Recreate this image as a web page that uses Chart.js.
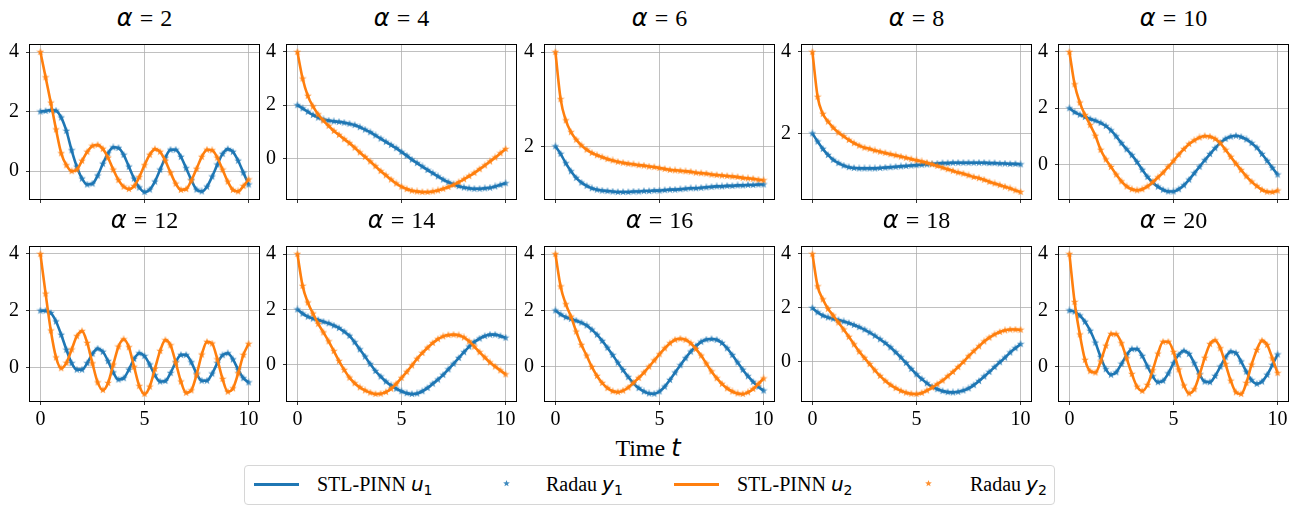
<!DOCTYPE html>
<html lang="en">
<head>
<meta charset="UTF-8" />
<title>STL-PINN vs Radau</title>
<script src="https://cdn.jsdelivr.net/npm/chart.js"></script>
<style>
  body { margin: 0; background: #fff; width: 1296px; height: 506px; position: relative; overflow: hidden;
         font-family: 'Liberation Serif', 'Times New Roman', serif; color: #000; }
  .panel { position: absolute; }
  .ptitle { position: absolute; text-align: center; font-size: 24px; line-height: 27px; white-space: nowrap;
            word-spacing: 1px; font-family: 'Liberation Serif', serif; }
  .m { font-family: 'DejaVu Sans', sans-serif; font-style: italic; }
  sub { font-size: 0.7em; line-height: 0; vertical-align: -0.3em; font-family: 'DejaVu Sans', sans-serif; }
  #xlabel { position: absolute; left: 548px; width: 200px; top: 434px; text-align: center; font-size: 24px; line-height: 28px; }
  #legend { position: absolute; left: 244px; top: 465px; width: 811px; height: 40px; border: 1px solid #d6d6d6;
            border-radius: 4px; box-sizing: border-box; }
  .lline { position: absolute; top: 17px; height: 3px; width: 45px; }
  .ltxt { position: absolute; top: 6.5px; font-size: 20px; line-height: 23px; white-space: nowrap; }
  .lstar { position: absolute; top: 14px; width: 7px; height: 7px; }
  .lstar canvas { display: block; }
</style>
</head>
<body>
<div id="xlabel">Time <span class="m">t</span></div>
<div id="legend">
  <span class="lline" style="left:9px;background:#1f77b4"></span>
  <span class="ltxt" style="left:72px">STL-PINN <span class="m">u</span><sub>1</sub></span>
  <span class="lstar" id="star1" style="left:258px"></span>
  <span class="ltxt" style="left:301px">Radau <span class="m">y</span><sub>1</sub></span>
  <span class="lline" style="left:429px;background:#ff7f0e"></span>
  <span class="ltxt" style="left:492px">STL-PINN <span class="m">u</span><sub>2</sub></span>
  <span class="lstar" id="star2" style="left:680px"></span>
  <span class="ltxt" style="left:725px">Radau <span class="m">y</span><sub>2</sub></span>
</div>

<script>
// time grid of the Radau solution
const times = [0, 0.25, 0.5, 0.75, 1, 1.25, 1.5, 1.75, 2, 2.25, 2.5, 2.75, 3, 3.25, 3.5, 3.75, 4, 4.25, 4.5, 4.75,
  5, 5.25, 5.5, 5.75, 6, 6.25, 6.5, 6.75, 7, 7.25, 7.5, 7.75, 8, 8.25, 8.5, 8.75, 9, 9.25, 9.5, 9.75, 10];
const alphas = [2, 4, 6, 8, 10, 12, 14, 16, 18, 20];
const xTicks = [0, 5, 10];

// u1 / y1 (blue) and u2 / y2 (orange) for every alpha
const u1_a2 = [2.00, 2.02, 2.05, 2.03, 1.80, 1.35, 0.70, 0.15, -0.25, -0.45, -0.42, -0.15, 0.25, 0.60, 0.80, 0.78, 0.55, 0.15, -0.25, -0.55, -0.70, -0.62, -0.35, 0.05, 0.45, 0.72, 0.72, 0.48, 0.10, -0.30, -0.62, -0.68, -0.52, -0.18, 0.22, 0.58, 0.74, 0.65, 0.35, -0.05, -0.45];
const u2_a2 = [4.00, 3.15, 2.30, 1.40, 0.60, 0.20, 0.00, 0.05, 0.35, 0.65, 0.85, 0.88, 0.75, 0.45, 0.05, -0.30, -0.52, -0.60, -0.50, -0.20, 0.20, 0.55, 0.74, 0.65, 0.35, -0.05, -0.42, -0.63, -0.60, -0.32, 0.08, 0.48, 0.72, 0.70, 0.45, 0.05, -0.35, -0.63, -0.68, -0.50, -0.28];

const u1_a4 = [2.00, 1.88, 1.75, 1.63, 1.53, 1.46, 1.42, 1.39, 1.37, 1.34, 1.30, 1.25, 1.17, 1.08, 0.98, 0.86, 0.74, 0.62, 0.50, 0.38, 0.24, 0.10, -0.05, -0.18, -0.31, -0.44, -0.56, -0.68, -0.80, -0.90, -0.98, -1.05, -1.10, -1.13, -1.15, -1.15, -1.13, -1.11, -1.06, -1.00, -0.94];
const u2_a4 = [4.00, 3.00, 2.35, 1.95, 1.65, 1.42, 1.22, 1.03, 0.88, 0.72, 0.57, 0.40, 0.22, 0.05, -0.12, -0.30, -0.48, -0.64, -0.80, -0.95, -1.07, -1.16, -1.22, -1.25, -1.27, -1.27, -1.25, -1.21, -1.15, -1.08, -1.00, -0.90, -0.79, -0.67, -0.55, -0.41, -0.27, -0.12, 0.03, 0.19, 0.35];

const u1_a6 = [2.00, 1.84, 1.64, 1.47, 1.33, 1.23, 1.16, 1.11, 1.08, 1.06, 1.05, 1.04, 1.03, 1.03, 1.03, 1.04, 1.04, 1.05, 1.05, 1.06, 1.06, 1.07, 1.08, 1.08, 1.09, 1.10, 1.11, 1.11, 1.12, 1.13, 1.14, 1.15, 1.15, 1.16, 1.16, 1.17, 1.17, 1.18, 1.18, 1.19, 1.19];
const u2_a6 = [4.00, 3.00, 2.55, 2.30, 2.14, 2.02, 1.93, 1.86, 1.81, 1.77, 1.73, 1.70, 1.67, 1.65, 1.63, 1.62, 1.60, 1.59, 1.57, 1.56, 1.54, 1.52, 1.50, 1.49, 1.48, 1.47, 1.46, 1.44, 1.43, 1.42, 1.40, 1.39, 1.38, 1.37, 1.36, 1.35, 1.33, 1.32, 1.31, 1.29, 1.28];

const u1_a8 = [2.00, 1.80, 1.62, 1.47, 1.35, 1.27, 1.21, 1.17, 1.15, 1.14, 1.14, 1.14, 1.14, 1.15, 1.16, 1.17, 1.18, 1.19, 1.20, 1.21, 1.22, 1.23, 1.24, 1.25, 1.26, 1.27, 1.27, 1.28, 1.28, 1.28, 1.28, 1.28, 1.28, 1.28, 1.27, 1.27, 1.26, 1.26, 1.25, 1.25, 1.24];
const u2_a8 = [4.00, 2.90, 2.48, 2.29, 2.14, 2.02, 1.93, 1.84, 1.76, 1.70, 1.65, 1.62, 1.58, 1.55, 1.52, 1.49, 1.46, 1.43, 1.40, 1.37, 1.34, 1.31, 1.28, 1.24, 1.20, 1.16, 1.12, 1.08, 1.04, 1.01, 0.97, 0.93, 0.90, 0.86, 0.81, 0.77, 0.73, 0.69, 0.65, 0.60, 0.56];

const u1_a10 = [2.00, 1.86, 1.77, 1.69, 1.62, 1.56, 1.48, 1.37, 1.21, 1.00, 0.76, 0.54, 0.33, 0.09, -0.19, -0.44, -0.64, -0.79, -0.90, -0.96, -0.96, -0.88, -0.74, -0.54, -0.31, -0.08, 0.15, 0.37, 0.58, 0.77, 0.91, 0.99, 1.02, 0.98, 0.89, 0.76, 0.60, 0.37, 0.13, -0.12, -0.36];
const u2_a10 = [4.00, 2.85, 2.20, 1.76, 1.40, 1.02, 0.52, 0.18, -0.09, -0.36, -0.60, -0.78, -0.88, -0.92, -0.88, -0.78, -0.63, -0.46, -0.29, -0.08, 0.13, 0.35, 0.55, 0.73, 0.86, 0.96, 1.01, 0.99, 0.91, 0.76, 0.52, 0.27, 0.03, -0.20, -0.42, -0.61, -0.77, -0.90, -0.97, -0.98, -0.93];

const u1_a12 = [2.00, 2.00, 1.92, 1.62, 1.15, 0.62, 0.15, -0.08, -0.08, 0.15, 0.48, 0.66, 0.55, 0.22, -0.18, -0.43, -0.38, -0.08, 0.30, 0.50, 0.40, 0.10, -0.28, -0.50, -0.48, -0.20, 0.18, 0.44, 0.44, 0.18, -0.22, -0.47, -0.47, -0.22, 0.15, 0.43, 0.50, 0.28, -0.08, -0.38, -0.53];
const u2_a12 = [4.00, 2.60, 1.30, 0.35, -0.03, 0.16, 0.63, 1.10, 1.28, 0.86, 0.14, -0.53, -0.80, -0.55, 0.10, 0.73, 0.99, 0.71, 0.02, -0.66, -0.94, -0.68, -0.05, 0.58, 0.96, 0.78, 0.17, -0.50, -0.90, -0.81, -0.26, 0.45, 0.90, 0.84, 0.28, -0.41, -0.86, -0.74, -0.21, 0.44, 0.83];

const u1_a14 = [2.00, 1.85, 1.74, 1.67, 1.62, 1.56, 1.50, 1.42, 1.33, 1.20, 1.05, 0.82, 0.56, 0.30, 0.03, -0.22, -0.42, -0.60, -0.74, -0.86, -0.95, -1.02, -1.05, -1.03, -0.95, -0.83, -0.68, -0.53, -0.36, -0.16, 0.04, 0.25, 0.46, 0.66, 0.83, 0.95, 1.04, 1.09, 1.09, 1.04, 0.98];
const u2_a14 = [4.00, 2.85, 2.25, 1.85, 1.48, 1.17, 0.85, 0.50, 0.14, -0.18, -0.46, -0.66, -0.81, -0.92, -1.00, -1.05, -1.04, -0.98, -0.86, -0.68, -0.47, -0.25, -0.02, 0.22, 0.43, 0.62, 0.79, 0.93, 1.03, 1.08, 1.09, 1.07, 0.99, 0.85, 0.66, 0.46, 0.27, 0.09, -0.06, -0.20, -0.34];

const u1_a16 = [2.00, 1.86, 1.76, 1.70, 1.64, 1.57, 1.47, 1.32, 1.14, 0.92, 0.68, 0.42, 0.15, -0.11, -0.36, -0.58, -0.75, -0.87, -0.94, -0.95, -0.87, -0.70, -0.46, -0.20, 0.06, 0.31, 0.54, 0.74, 0.89, 0.97, 0.99, 0.96, 0.85, 0.66, 0.42, 0.16, -0.10, -0.33, -0.53, -0.70, -0.84];
const u2_a16 = [4.00, 2.85, 2.22, 1.78, 1.25, 0.78, 0.40, 0.00, -0.32, -0.57, -0.75, -0.86, -0.89, -0.84, -0.73, -0.56, -0.39, -0.20, 0.01, 0.23, 0.45, 0.66, 0.84, 0.96, 1.00, 0.96, 0.84, 0.64, 0.40, 0.12, -0.16, -0.40, -0.60, -0.76, -0.87, -0.94, -0.96, -0.90, -0.78, -0.60, -0.41];

const u1_a18 = [2.00, 1.84, 1.72, 1.65, 1.60, 1.55, 1.50, 1.44, 1.37, 1.29, 1.20, 1.09, 0.97, 0.84, 0.70, 0.54, 0.36, 0.17, -0.04, -0.26, -0.46, -0.63, -0.79, -0.92, -1.01, -1.08, -1.12, -1.13, -1.11, -1.06, -0.98, -0.86, -0.71, -0.54, -0.37, -0.19, -0.01, 0.16, 0.35, 0.51, 0.66];
const u2_a18 = [4.00, 2.80, 2.32, 1.97, 1.72, 1.46, 1.20, 0.93, 0.65, 0.38, 0.15, -0.08, -0.31, -0.52, -0.70, -0.85, -0.97, -1.07, -1.14, -1.18, -1.19, -1.15, -1.06, -0.95, -0.82, -0.69, -0.53, -0.37, -0.19, 0.00, 0.21, 0.40, 0.58, 0.76, 0.90, 1.02, 1.11, 1.17, 1.20, 1.20, 1.19];

const u1_a20 = [2.00, 1.96, 1.82, 1.60, 1.28, 0.86, 0.35, -0.08, -0.28, -0.19, 0.11, 0.42, 0.63, 0.63, 0.39, 0.02, -0.33, -0.54, -0.49, -0.23, 0.13, 0.43, 0.57, 0.46, 0.13, -0.26, -0.52, -0.54, -0.32, 0.01, 0.34, 0.54, 0.49, 0.19, -0.17, -0.47, -0.60, -0.52, -0.28, 0.07, 0.44];
const u2_a20 = [4.00, 2.30, 1.15, 0.25, -0.15, -0.20, 0.19, 0.75, 1.17, 1.16, 0.84, 0.30, -0.25, -0.70, -0.85, -0.64, -0.12, 0.47, 0.89, 0.89, 0.53, -0.09, -0.66, -0.94, -0.79, -0.28, 0.32, 0.81, 0.94, 0.66, 0.10, -0.49, -0.90, -0.96, -0.57, 0.08, 0.60, 0.93, 0.78, 0.30, -0.22];

const seriesU1 = [u1_a2, u1_a4, u1_a6, u1_a8, u1_a10, u1_a12, u1_a14, u1_a16, u1_a18, u1_a20];
const seriesU2 = [u2_a2, u2_a4, u2_a6, u2_a8, u2_a10, u2_a12, u2_a14, u2_a16, u2_a18, u2_a20];

// layout of the 2x5 grid (pixels)
const COL_LEFT = [30, 287, 545, 802, 1059];
const ROW_TOP = [34, 236];
const AX_W = 229, AX_H = 165;
const PAD_L = 44, PAD_T = 8, PAD_R = 10, PAD_B = 34;

const BLUE = '#1f77b4', ORANGE = '#ff7f0e', GRID = '#b0b0b0';
const TICK_FONT = { family: "'Liberation Serif', 'Times New Roman', serif", size: 20 };

function starCanvas(color, size) {
  const c = document.createElement('canvas');
  c.width = size; c.height = size;
  const g = c.getContext('2d');
  const r = size / 2, ri = r * 0.42;
  g.beginPath();
  for (let i = 0; i < 10; i++) {
    const a = -Math.PI / 2 + i * Math.PI / 5;
    const rr = i % 2 === 0 ? r : ri;
    g.lineTo(r + rr * Math.cos(a), r + rr * Math.sin(a));
  }
  g.closePath();
  g.fillStyle = color;
  g.globalAlpha = 0.85;
  g.fill();
  return c;
}
const starBlue = starCanvas(BLUE, 8);
const starOrange = starCanvas(ORANGE, 8);
document.getElementById('star1').appendChild(starCanvas(BLUE, 7));
document.getElementById('star2').appendChild(starCanvas(ORANGE, 7));

// axes frame on all four sides, like matplotlib spines
const framePlugin = {
  id: 'frame',
  afterDraw(chart) {
    const { ctx, chartArea: a } = chart;
    ctx.save();
    ctx.strokeStyle = '#000';
    ctx.lineWidth = 1;
    ctx.strokeRect(a.left - 0.5, a.top - 0.5, a.right - a.left + 1, a.bottom - a.top + 1);
    ctx.restore();
  }
};

function pts(arr) {
  return arr.map((v, i) => ({ x: times[i], y: v }));
}

function yLimits(a, b) {
  const lo = Math.min(...a, ...b), hi = Math.max(...a, ...b);
  const pad = (hi - lo) * 0.05;
  return [lo - pad, hi + pad];
}

alphas.forEach((alpha, k) => {
  const row = Math.floor(k / 5), col = k % 5;
  const left = COL_LEFT[col], top = ROW_TOP[row];

  const title = document.createElement('div');
  title.className = 'ptitle';
  title.style.left = left + 'px';
  title.style.width = AX_W + 'px';
  title.style.top = (top - 29.5) + 'px';
  title.innerHTML = '<span class="m">α</span> = ' + alpha;
  document.body.appendChild(title);

  const box = document.createElement('div');
  box.className = 'panel';
  box.style.left = (left - PAD_L) + 'px';
  box.style.top = (top - PAD_T) + 'px';
  const cv = document.createElement('canvas');
  cv.width = AX_W + PAD_L + PAD_R;
  cv.height = AX_H + PAD_T + PAD_B;
  box.appendChild(cv);
  document.body.appendChild(box);

  const u1 = seriesU1[k], u2 = seriesU2[k];
  const [ymin, ymax] = yLimits(u1, u2);
  const yTicks = [-2, 0, 2, 4].filter(v => v >= ymin && v <= ymax);

  new Chart(cv, {
    type: 'line',
    data: {
      datasets: [
        { label: 'STL-PINN u1', data: pts(u1), borderColor: BLUE, borderWidth: 2.6, pointRadius: 0,
          cubicInterpolationMode: 'monotone', order: 4 },
        { label: 'Radau y1', data: pts(u1), showLine: false, pointStyle: starBlue, pointRadius: 4, order: 3 },
        { label: 'STL-PINN u2', data: pts(u2), borderColor: ORANGE, borderWidth: 2.6, pointRadius: 0,
          cubicInterpolationMode: 'monotone', order: 2 },
        { label: 'Radau y2', data: pts(u2), showLine: false, pointStyle: starOrange, pointRadius: 4, order: 1 }
      ]
    },
    options: {
      responsive: false,
      animation: false,
      events: [],
      layout: { padding: { left: 0, top: PAD_T, right: PAD_R, bottom: 0 } },
      plugins: { legend: { display: false }, tooltip: { enabled: false } },
      scales: {
        x: {
          type: 'linear', min: -0.5, max: 10.5,
          afterBuildTicks: s => { s.ticks = xTicks.map(v => ({ value: v })); },
          afterFit: s => { s.height = PAD_B; },
          grid: { color: GRID, lineWidth: 0.8, tickColor: '#000', tickLength: 4 },
          border: { display: false },
          ticks: { display: row === 1, font: TICK_FONT, color: '#000', padding: 3, maxRotation: 0 }
        },
        y: {
          type: 'linear', min: ymin, max: ymax,
          afterBuildTicks: s => { s.ticks = yTicks.map(v => ({ value: v })); },
          afterFit: s => { s.width = PAD_L; },
          grid: { color: GRID, lineWidth: 0.8, tickColor: '#000', tickLength: 4 },
          border: { display: false },
          ticks: { font: TICK_FONT, color: '#000', padding: 7 }
        }
      }
    },
    plugins: [framePlugin]
  });
});
</script>
</body>
</html>
